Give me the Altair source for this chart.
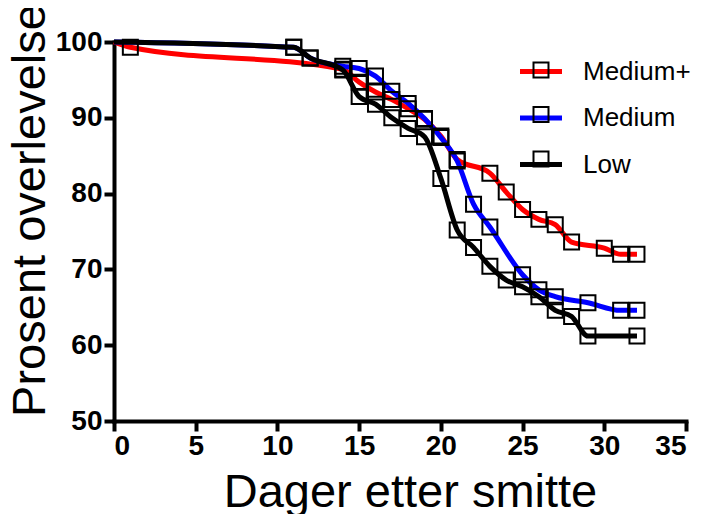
import altair as alt
import pandas as pd

series_names = ["Medium+", "Medium", "Low"]
series_colors = ["#FF0000", "#0000FF", "#000000"]

medium_plus_days = [0, 1, 14, 15, 16, 17, 18, 19, 20, 21, 23, 24, 25, 26, 27, 28, 30, 31, 32]
medium_plus_vals = [100, 99.3, 96.4, 94.7, 93.4, 92.4, 91.2, 89.8, 87.6, 84.5, 82.7, 80.2, 77.9, 76.6, 75.9, 73.6, 72.8, 72.0, 72.0]

medium_days = [0, 11, 12, 14, 15, 16, 17, 18, 19, 20, 21, 22, 23, 25, 26, 27, 29, 31, 32]
medium_vals = [100, 99.3, 97.9, 96.8, 96.5, 95.5, 93.5, 91.9, 89.9, 87.4, 84.3, 78.6, 75.6, 69.3, 67.3, 66.4, 65.6, 64.6, 64.6]

low_days = [0, 11, 12, 14, 15, 16, 17, 18, 19, 20, 21, 22, 23, 24, 25, 26, 27, 28, 29, 32]
low_vals = [100, 99.3, 97.9, 96.3, 92.8, 91.8, 90.0, 88.6, 87.5, 82.0, 75.2, 72.9, 70.4, 68.6, 67.7, 66.4, 64.6, 63.8, 61.2, 61.2]

x_ticks = [0, 5, 10, 15, 20, 25, 30, 35]
y_ticks = [50, 60, 70, 80, 90, 100]

rows = []
for name, days, vals in [("Medium+", medium_plus_days, medium_plus_vals),
                         ("Medium", medium_days, medium_vals),
                         ("Low", low_days, low_vals)]:
    for d, v in zip(days, vals):
        rows.append({"series": name, "series2": name, "day": d, "value": v})
df = pd.DataFrame(rows)

FONT = "Liberation Sans, Arial, sans-serif"
square_path = "M-0.357,-0.357H0.357V0.357H-0.357Z"

x_enc = alt.X("day:Q", scale=alt.Scale(domain=[0, 35], nice=False),
              axis=alt.Axis(values=x_ticks, title="Dager etter smitte", labelPadding=1,
                            titleX=296, titleY=85, titleBaseline="alphabetic", titleAlign="center"))
y_enc = alt.Y("value:Q", scale=alt.Scale(domain=[50, 100], nice=False, zero=False),
              axis=alt.Axis(values=y_ticks, title="Prosent overlevelse", labelPadding=2,
                            titleAngle=270, titleX=-70, titleY=168, titleBaseline="alphabetic",
                            titleAlign="center"))

color_enc = alt.Color("series:N", scale=alt.Scale(domain=series_names, range=series_colors),
                      legend=alt.Legend(orient="none", legendX=403.5, legendY=6, title=None,
                                        symbolType="M-1,0H1", symbolSize=1764, symbolStrokeWidth=5,
                                        labelFont=FONT, labelFontSize=26, labelColor="black",
                                        labelOffset=18.5, rowPadding=9.5, padding=0))

lines = []
for s in series_names:
    lines.append(
        alt.Chart(df).transform_filter(alt.datum.series == s)
        .mark_line(interpolate="monotone", strokeWidth=5)
        .encode(x=x_enc, y=y_enc, color=color_enc, order="day:Q")
    )

points = (
    alt.Chart(df).transform_filter(alt.datum.day > 0)
    .mark_point(filled=False, color="black", strokeWidth=2, size=1764, opacity=1)
    .encode(
        x=x_enc, y=y_enc,
        shape=alt.Shape("series2:N", scale=alt.Scale(range=[square_path, square_path, square_path]),
                        legend=alt.Legend(orient="none", legendX=405, legendY=6, title=None,
                                          symbolSize=1764, symbolStrokeWidth=2,
                                          symbolStrokeColor="black", symbolFillColor="transparent",
                                          labelExpr="' '", labelOpacity=0, labelFont=FONT,
                                          labelFontSize=26, labelOffset=18.5, rowPadding=9.5,
                                          padding=0))
    )
)

chart = (
    alt.layer(*lines, points)
    .properties(width=572, height=379, autosize=alt.AutoSizeParams(type="none"),
                padding={"left": 106, "top": 34, "right": 16, "bottom": 93})
    .configure_view(stroke=None)
    .configure_axis(grid=False, domainColor="black", domainWidth=4, domainCap="square",
                    tickColor="black", tickWidth=4, tickSize=10,
                    labelFont=FONT, labelFontWeight="bold", labelFontSize=28, labelColor="black",
                    titleFont=FONT, titleFontWeight="normal", titleFontSize=47, titleColor="black")
)

chart.save("out.html", embed_options={"renderer": "svg", "actions": False})
